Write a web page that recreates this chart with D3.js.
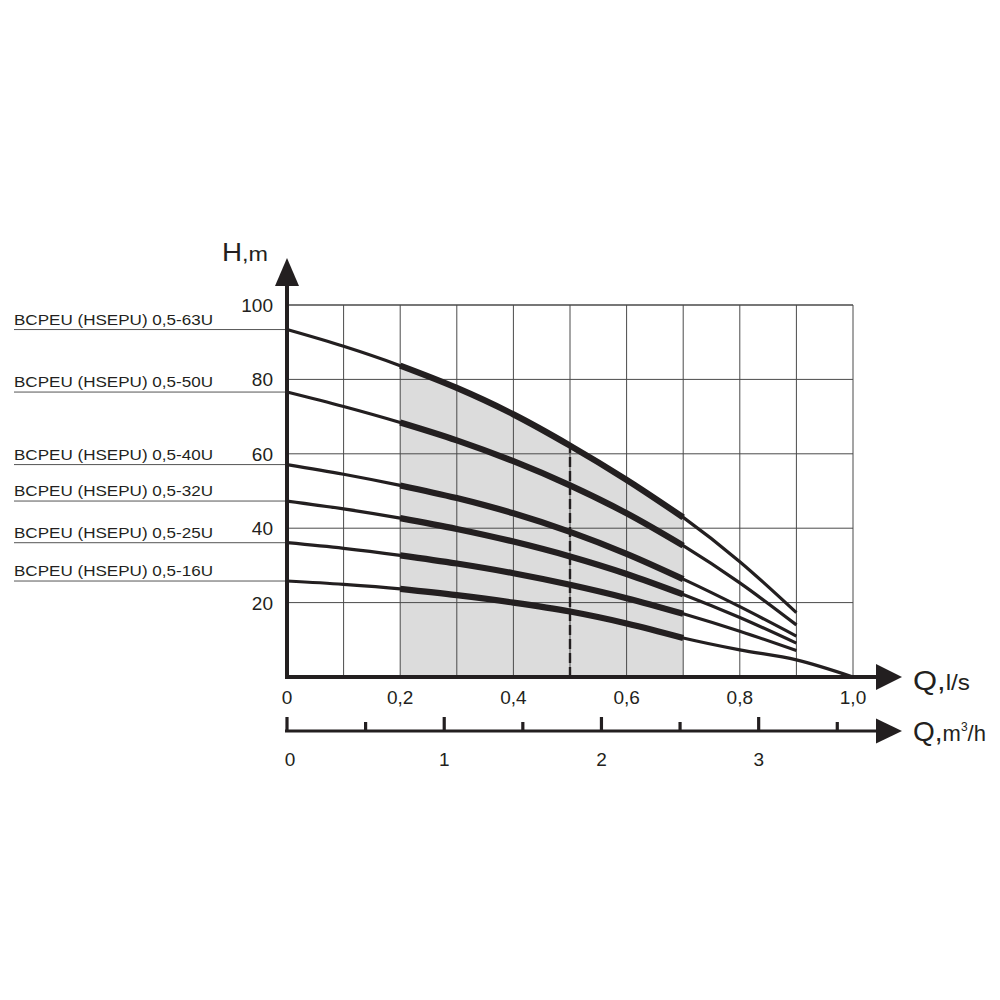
<!DOCTYPE html>
<html><head><meta charset="utf-8">
<script src="https://cdn.jsdelivr.net/npm/d3@7"></script>
<style>
html,body{margin:0;padding:0;background:#fff;}
text{font-family:"Liberation Sans",Arial,sans-serif;fill:#231f20;}
</style></head>
<body>
<svg id="chart" width="1000" height="1000"></svg>
<script>
// ---- data ----
const flowLs = [0, 0.1, 0.2, 0.3, 0.4, 0.5, 0.6, 0.7, 0.8, 0.9, 1.0];
const models = ["BCPEU (HSEPU) 0,5-63U","BCPEU (HSEPU) 0,5-50U","BCPEU (HSEPU) 0,5-40U",
                "BCPEU (HSEPU) 0,5-32U","BCPEU (HSEPU) 0,5-25U","BCPEU (HSEPU) 0,5-16U"];
const head63 = [93.4, 88.9, 83.7, 77.7, 70.6, 62.2, 53.0, 42.9, 31.0, 17.3];
const head50 = [76.6, 72.7, 68.4, 63.6, 58.0, 51.5, 44.0, 35.3, 25.3, 14.0];
const head40 = [57.1, 54.5, 51.5, 48.1, 44.0, 39.0, 33.1, 26.3, 18.9, 11.0];
const head32 = [47.3, 45.2, 42.7, 39.8, 36.4, 32.4, 27.7, 22.2, 16.0, 9.1];
const head25 = [36.1, 34.6, 32.7, 30.5, 27.9, 24.8, 21.2, 17.0, 12.3, 7.1];
const head16 = [25.8, 24.9, 23.7, 22.0, 20.0, 17.6, 14.4, 10.5, 7.3, 4.6, 0];
const heads = [head63, head50, head40, head32, head25, head16];
const xTicks = [0, 0.2, 0.4, 0.6, 0.8, 1.0];
const xTickLabels = ["0","0,2","0,4","0,6","0,8","1,0"];
const yTicks = [20, 40, 60, 80, 100];
const yTickLabels = ["20","40","60","80","100"];
const m3Ticks = [0, 0.5, 1, 1.5, 2, 2.5, 3, 3.5];
const m3Labels = [0, 1, 2, 3];
const workRange = [0.2, 0.7];
const dutyPoint = 0.5;

// ---- scales ----
const svg = d3.select("#chart");
const x = d3.scaleLinear().domain([0, 1]).range([287, 853]);
const y = d3.scaleLinear().domain([0, 100]).range([677, 305]);
const xm = d3.scaleLinear().domain([0, 3.6]).range([287, 853]);
const lowerY = 731;
const ink = "#231f20";

const lineGen = d3.line().x(d => x(d.q)).y(d => y(d.h)).curve(d3.curveMonotoneX);
const areaGen = d3.area().x(d => x(d.q)).y0(y(0)).y1(d => y(d.h)).curve(d3.curveMonotoneX);
const inRange = d => d.q >= workRange[0] - 1e-9 && d.q <= workRange[1] + 1e-9;

// shaded work range under top curve
const topSeries = head63.map((h, i) => ({q: flowLs[i], h}));
svg.append("path").attr("d", areaGen(topSeries.filter(inRange))).attr("fill", "#dcdcdc");

// grid
const gridX = d3.range(1, 11).map(i => i / 10);
svg.append("g").selectAll("line").data(gridX).join("line")
  .attr("x1", d => x(d)).attr("x2", d => x(d)).attr("y1", y(0)).attr("y2", y(100))
  .attr("stroke", "#4a4a4a").attr("stroke-width", 1);
svg.append("g").selectAll("line").data(yTicks).join("line")
  .attr("x1", x(0)).attr("x2", x(1)).attr("y1", d => y(d)).attr("y2", d => y(d))
  .attr("stroke", "#4a4a4a").attr("stroke-width", d => d === 100 ? 1.4 : 1);

// dashed duty line
const dutyH = head63[flowLs.indexOf(dutyPoint)];
svg.append("line").attr("x1", x(dutyPoint)).attr("x2", x(dutyPoint))
  .attr("y1", y(0)).attr("y2", y(dutyH))
  .attr("stroke", ink).attr("stroke-width", 2.4).attr("stroke-dasharray", "10,4");

// curves
heads.forEach((hs) => {
  const pts = hs.map((h, i) => ({q: flowLs[i], h}));
  svg.append("path").attr("d", lineGen(pts)).attr("fill", "none")
    .attr("stroke", ink).attr("stroke-width", 3.2).attr("stroke-linejoin", "round");
  svg.append("path").attr("d", lineGen(pts.filter(inRange))).attr("fill", "none")
    .attr("stroke", ink).attr("stroke-width", 6.2);
});

// model labels with leader lines
heads.forEach((hs, i) => {
  const yy = y(hs[0]);
  svg.append("line").attr("x1", 14).attr("x2", x(0)).attr("y1", yy).attr("y2", yy)
    .attr("stroke", "#555").attr("stroke-width", 1);
  svg.append("text").attr("x", 14).attr("y", yy - 5)
    .attr("font-size", 15).attr("textLength", 199).attr("lengthAdjust", "spacingAndGlyphs")
    .text(models[i]);
});

// main axes
svg.append("line").attr("x1", x(0)).attr("x2", x(0)).attr("y1", y(0) + 2).attr("y2", 284)
  .attr("stroke", ink).attr("stroke-width", 4);
svg.append("path").attr("d", `M${x(0)},258 L${x(0) - 12},286 L${x(0) + 12},286 Z`).attr("fill", ink);
svg.append("line").attr("x1", x(0) - 2).attr("x2", 878).attr("y1", y(0)).attr("y2", y(0))
  .attr("stroke", ink).attr("stroke-width", 4);
svg.append("path").attr("d", `M902,${y(0)} L876,${y(0) - 13} L876,${y(0) + 13} Z`).attr("fill", ink);

// y tick labels
svg.append("g").selectAll("text").data(yTicks).join("text")
  .attr("x", 273).attr("y", d => y(d) + 7).attr("text-anchor", "end")
  .attr("font-size", 19).text((d, i) => yTickLabels[i]);

// x tick labels
svg.append("g").selectAll("text").data(xTicks).join("text")
  .attr("x", d => x(d)).attr("y", 704).attr("text-anchor", "middle")
  .attr("font-size", 19).text((d, i) => xTickLabels[i]);

// lower m3/h axis
svg.append("line").attr("x1", x(0) - 2).attr("x2", 878).attr("y1", lowerY).attr("y2", lowerY)
  .attr("stroke", ink).attr("stroke-width", 3.2);
svg.append("path").attr("d", `M902,${lowerY} L876,${lowerY - 12.5} L876,${lowerY + 12.5} Z`).attr("fill", ink);
svg.append("g").selectAll("line").data(m3Ticks).join("line")
  .attr("x1", d => xm(d)).attr("x2", d => xm(d))
  .attr("y1", lowerY).attr("y2", d => lowerY - (Number.isInteger(d) ? 14 : 9))
  .attr("stroke", ink).attr("stroke-width", 3.2);
svg.append("g").selectAll("text").data(m3Labels).join("text")
  .attr("x", d => xm(d) + (d === 0 ? 3 : 0)).attr("y", 766).attr("text-anchor", "middle")
  .attr("font-size", 19).text(d => d);

// axis titles
const hT = svg.append("text").attr("x", 222).attr("y", 261)
  .attr("textLength", 46).attr("lengthAdjust", "spacingAndGlyphs");
hT.append("tspan").attr("font-size", 25).text("H");
hT.append("tspan").attr("font-size", 21).text(",m");

const q1 = svg.append("text").attr("x", 913).attr("y", 690)
  .attr("textLength", 57).attr("lengthAdjust", "spacingAndGlyphs");
q1.append("tspan").attr("font-size", 28).text("Q,");
q1.append("tspan").attr("font-size", 22).text("l/s");

const q2 = svg.append("text").attr("x", 913).attr("y", 741);
q2.append("tspan").attr("font-size", 28).text("Q,");
q2.append("tspan").attr("font-size", 22).text("m");
q2.append("tspan").attr("font-size", 12).attr("dy", -10).text("3");
q2.append("tspan").attr("font-size", 22).attr("dy", 10).text("/h");
</script>
</body></html>
